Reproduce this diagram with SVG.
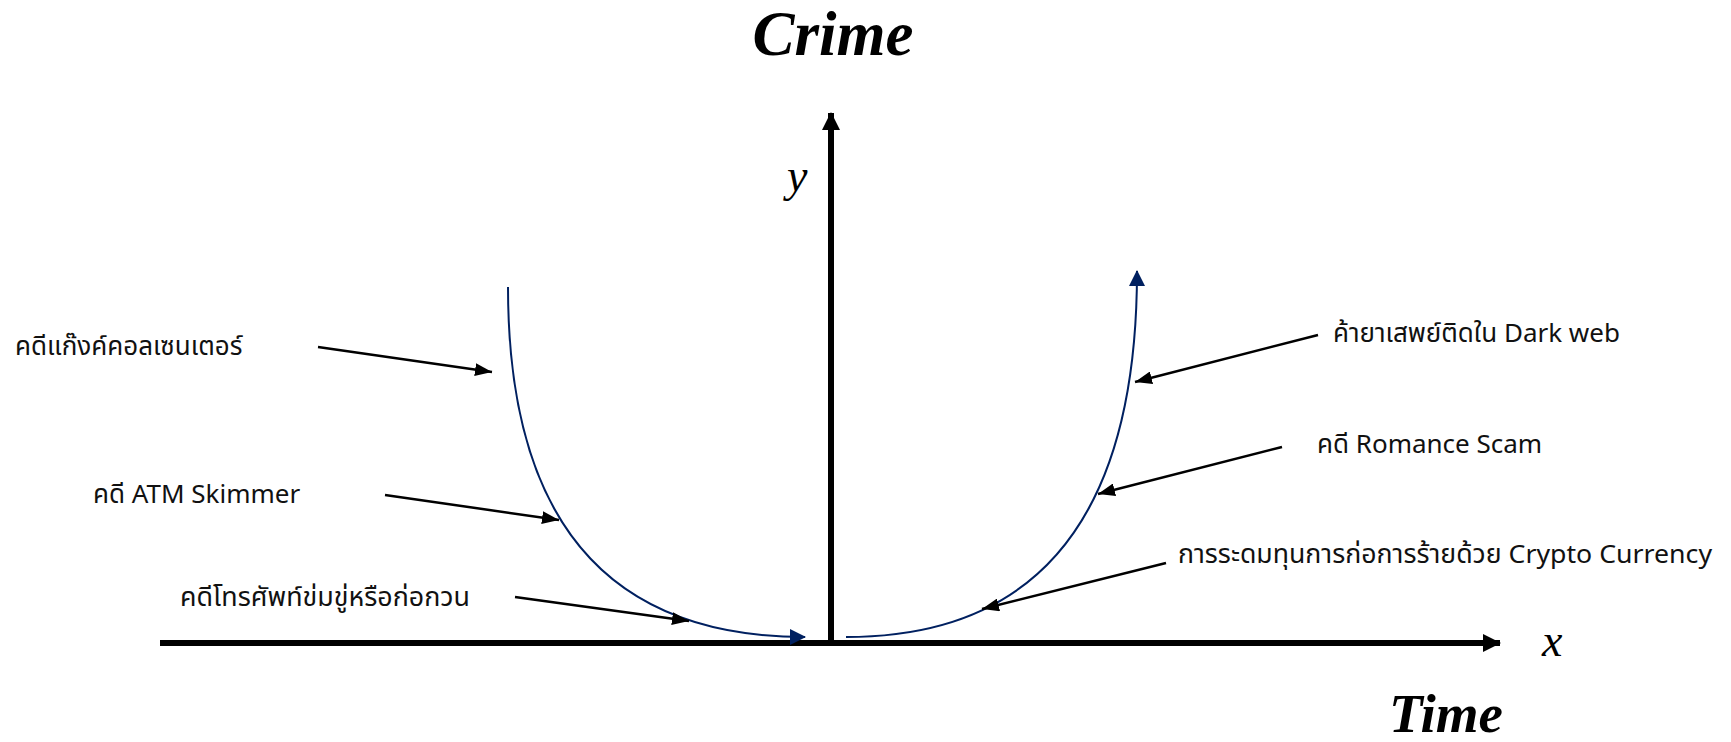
<svg xmlns="http://www.w3.org/2000/svg" width="1731" height="742" viewBox="0 0 1731 742">
<style>
.lbl{font-family:"Noto Sans","Noto Sans Thai","Leelawadee UI",sans-serif;font-size:26px;fill:#111}
.title{font-family:"Liberation Serif",serif;font-weight:bold;font-style:italic;fill:#000}
.var{font-family:"Liberation Serif",serif;font-style:italic;font-size:46px;fill:#000}
.ptr{stroke:#000;stroke-width:2.5;fill:none}
.axis{stroke:#000;stroke-width:6;fill:none}
.curve{stroke:#002060;stroke-width:2;fill:none}
</style>
<defs>
<marker id="ah" viewBox="0 0 17 13" refX="17" refY="6.5" markerWidth="17" markerHeight="13" markerUnits="userSpaceOnUse" orient="auto"><path d="M0,0 L17,6.5 L0,13 Z" fill="#000"/></marker>
<marker id="axh" viewBox="0 0 18 18" refX="17" refY="9" markerWidth="18" markerHeight="18" markerUnits="userSpaceOnUse" orient="auto"><path d="M0,0 L18,9 L0,18 Z" fill="#000"/></marker>
<marker id="ch" viewBox="0 0 16 16" refX="15" refY="8" markerWidth="16" markerHeight="16" markerUnits="userSpaceOnUse" orient="auto"><path d="M0,0 L16,8 L0,16 Z" fill="#002060"/></marker>
</defs>
<g id="titles">
<text class="title" x="833" y="55" font-size="63" text-anchor="middle">Crime</text>
<text class="title" x="1446" y="732" font-size="55" text-anchor="middle">Time</text>
</g>
<g id="axes">
<line class="axis" x1="831" y1="643" x2="831" y2="113" marker-end="url(#axh)"/>
<line class="axis" x1="160" y1="643" x2="1500" y2="643" marker-end="url(#axh)"/>
<text class="var" x="787" y="191">y</text>
<text class="var" x="1542" y="656">x</text>
</g>
<g id="curves">
<path class="curve" d="M508,287 Q508,637 805,637" marker-end="url(#ch)"/>
<path class="curve" d="M846,637 Q1137,637 1137,271" marker-end="url(#ch)"/>
</g>
<g id="n1"><text class="lbl" x="15" y="355">คดีแก๊งค์คอลเซนเตอร์</text></g>
<g id="n2"><text class="lbl" x="93" y="503">คดี ATM Skimmer</text></g>
<g id="n3"><text class="lbl" x="180" y="606" textLength="290" lengthAdjust="spacingAndGlyphs">คดีโทรศัพท์ข่มขู่หรือก่อกวน</text></g>
<g id="n4"><text class="lbl" x="1333" y="342">ค้ายาเสพย์ติดใน Dark web</text></g>
<g id="n5"><text class="lbl" x="1317" y="453">คดี Romance Scam</text></g>
<g id="n6"><text class="lbl" x="1178" y="563" textLength="534" lengthAdjust="spacingAndGlyphs">การระดมทุนการก่อการร้ายด้วย Crypto Currency</text></g>
<g id="connectors">
<line class="ptr" x1="318" y1="347" x2="492" y2="372" marker-end="url(#ah)"/>
<line class="ptr" x1="385" y1="495" x2="559" y2="520" marker-end="url(#ah)"/>
<line class="ptr" x1="515" y1="597" x2="689" y2="621" marker-end="url(#ah)"/>
<line class="ptr" x1="1318" y1="335" x2="1135" y2="382" marker-end="url(#ah)"/>
<line class="ptr" x1="1282" y1="447" x2="1098" y2="494" marker-end="url(#ah)"/>
<line class="ptr" x1="1166" y1="563" x2="982" y2="609" marker-end="url(#ah)"/>
</g>
</svg>
